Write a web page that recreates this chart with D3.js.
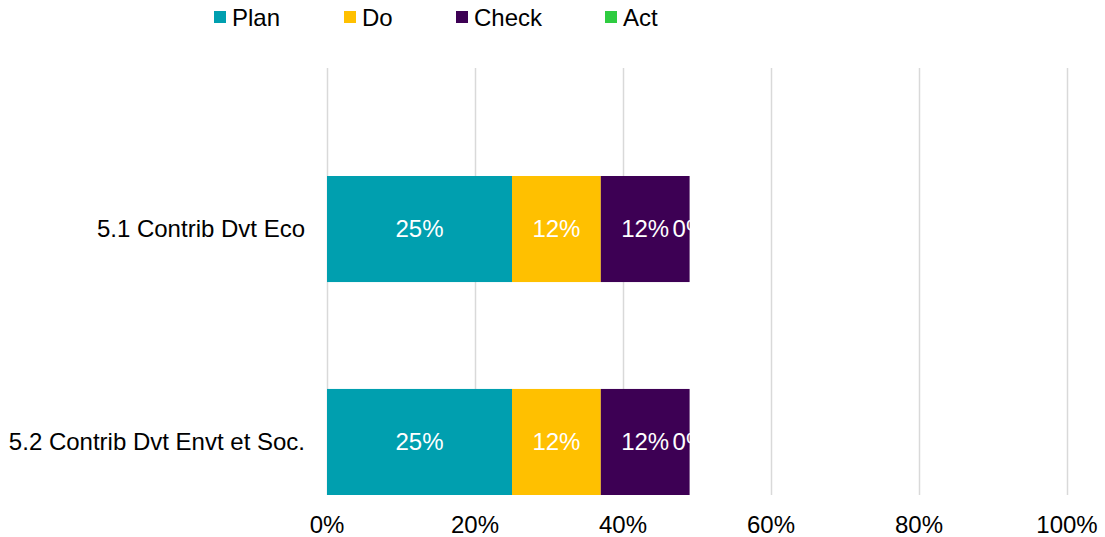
<!DOCTYPE html>
<html>
<head>
<meta charset="utf-8">
<script src="https://cdn.jsdelivr.net/npm/d3@7"></script>
<style>
  body { margin: 0; background: #fff; }
  svg { font-family: "Liberation Sans", Arial, sans-serif; }
</style>
</head>
<body>
<svg width="1105" height="537"></svg>
<script>
// data
const categories = ["5.1 Contrib Dvt Eco", "5.2 Contrib Dvt Envt et Soc."];
const seriesNames = ["Plan", "Do", "Check", "Act"];
const plan  = [25, 25];
const doo   = [12, 12];
const check = [12, 12];
const act   = [0, 0];
const ticks = [0, 20, 40, 60, 80, 100];
const colors = ["#009FAF", "#FFC000", "#3D0054", "#2ECC40"];

const seriesVals = [plan, doo, check, act];

const svg = d3.select("svg");
const x = d3.scaleLinear().domain([0, 100]).range([327, 1067]);
const y = d3.scaleBand().domain(categories).range([176, 495]).paddingInner(0.502).paddingOuter(0);

// gridlines
svg.append("g").selectAll("line")
  .data(ticks).enter().append("line")
  .attr("x1", d => x(d) + 0.5).attr("x2", d => x(d) + 0.5)
  .attr("y1", 68).attr("y2", 495)
  .attr("stroke", "#D9D9D9").attr("stroke-width", 1.5);

// x axis labels
svg.append("g").selectAll("text")
  .data(ticks).enter().append("text")
  .attr("x", d => x(d)).attr("y", 533)
  .attr("text-anchor", "middle")
  .attr("font-size", 24).attr("fill", "#000")
  .text(d => d + "%");

// category labels
svg.append("g").selectAll("text")
  .data(categories).enter().append("text")
  .attr("x", 305).attr("y", d => y(d) + y.bandwidth() / 2 + 8)
  .attr("text-anchor", "end")
  .attr("font-size", 24).attr("fill", "#000")
  .text(d => d);

// stacked rows
const rows = categories.map((c, i) => {
  const o = { cat: c };
  seriesNames.forEach((s, j) => { o[s] = seriesVals[j][i]; });
  return o;
});
const stacked = d3.stack().keys(seriesNames)(rows);

const layers = svg.append("g").selectAll("g")
  .data(stacked).enter().append("g")
  .attr("fill", (d, i) => colors[i]);

layers.selectAll("rect")
  .data(d => d).enter().append("rect")
  .attr("x", d => x(d[0]))
  .attr("width", d => x(d[1]) - x(d[0]))
  .attr("y", d => y(d.data.cat))
  .attr("height", y.bandwidth());

// clip so the 0% label is cut at the bar end
const defs = svg.append("defs");
rows.forEach((r, i) => {
  const total = d3.sum(seriesNames, s => r[s]);
  defs.append("clipPath").attr("id", "clip" + i)
    .append("rect").attr("x", 0).attr("y", 0)
    .attr("width", x(total) + 1).attr("height", 537);
});

// data labels
stacked.forEach((layer, j) => {
  layer.forEach((d, i) => {
    const v = d[1] - d[0];
    let cx = (x(d[0]) + x(d[1])) / 2;
    let anchor = "middle";
    if (v === 0) { cx = x(d[0]) - 17; anchor = "start"; }
    svg.append("text")
      .attr("clip-path", "url(#clip" + i + ")")
      .attr("x", cx)
      .attr("y", y(d.data.cat) + y.bandwidth() / 2 + 8)
      .attr("text-anchor", anchor)
      .attr("font-size", 24).attr("fill", "#fff")
      .text(v + "%");
  });
});

// legend
const legX = [214, 344, 456, 605];
const leg = svg.append("g").selectAll("g")
  .data(seriesNames).enter().append("g")
  .attr("transform", (d, i) => "translate(" + legX[i] + ",0)");
leg.append("rect").attr("x", 0).attr("y", 11).attr("width", 12).attr("height", 12)
  .attr("fill", (d, i) => colors[i]);
leg.append("text").attr("x", 18).attr("y", 26)
  .attr("font-size", 24).attr("fill", "#000")
  .text(d => d);
</script>
</body>
</html>
